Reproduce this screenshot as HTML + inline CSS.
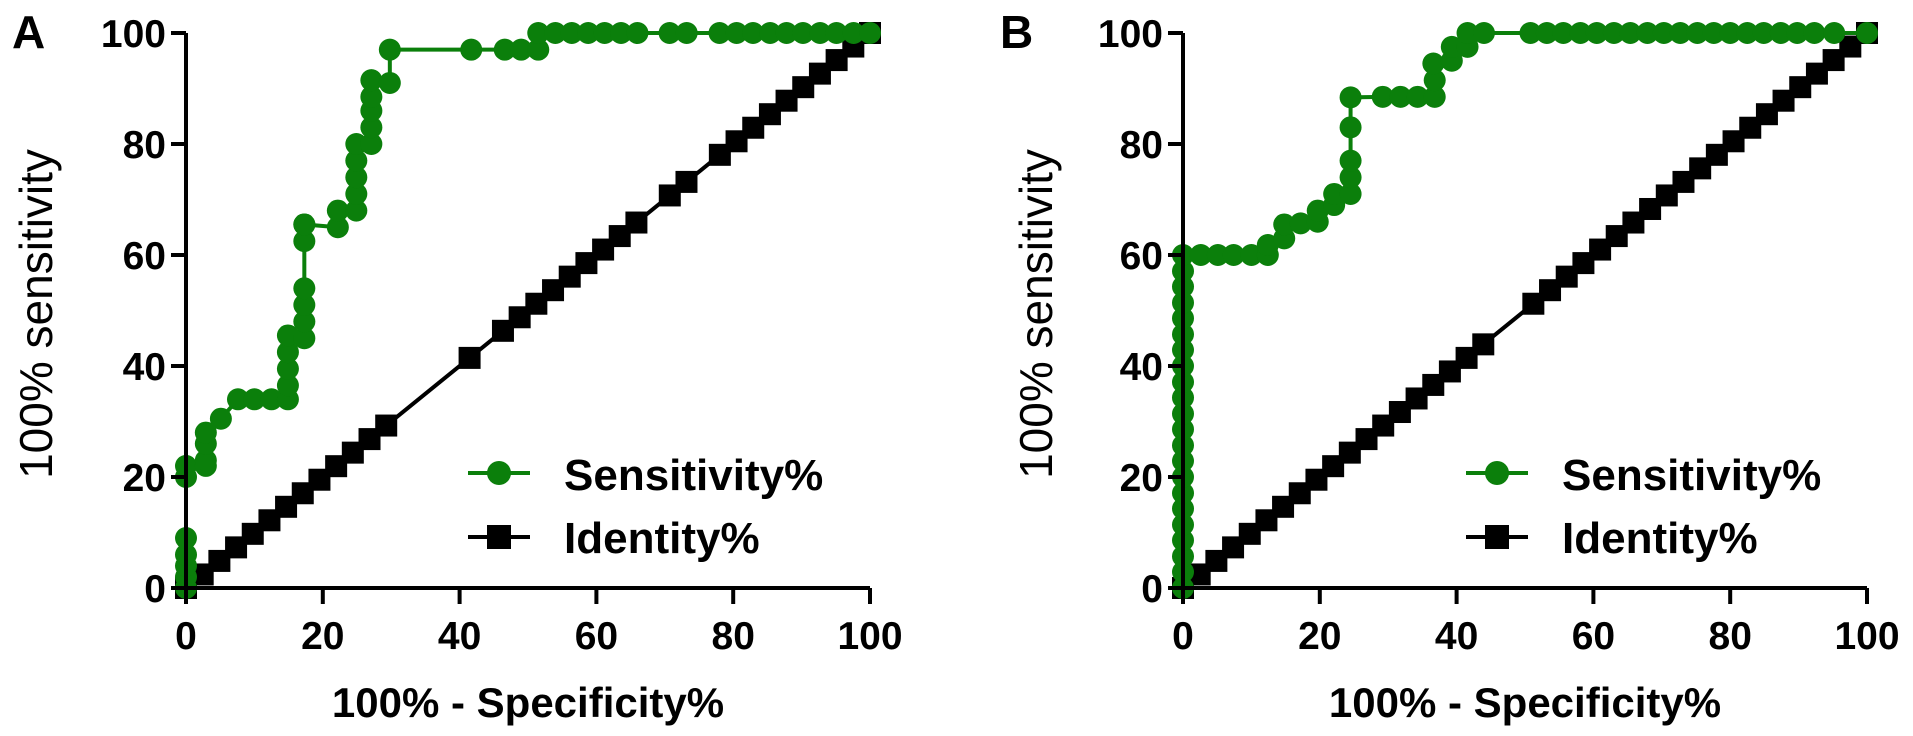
<!DOCTYPE html>
<html><head><meta charset="utf-8"><style>
html,body{margin:0;padding:0;background:#fff;}
svg{display:block;font-family:"Liberation Sans",Arial,sans-serif;}
</style></head><body>
<svg id="fig" width="1913" height="736" viewBox="0 0 1913 736" xmlns="http://www.w3.org/2000/svg"></svg>
<script>
const ticks = [0, 20, 40, 60, 80, 100];
const tickLabels = ["0", "20", "40", "60", "80", "100"];
const sensAx = [0,0,0,0,0,0,0,2.9,2.9,2.9,2.9,5.1,7.6,10,12.5,14.9,14.9,14.9,14.9,14.9,17.3,17.3,17.3,17.3,17.3,17.3,17.3,22.2,22.2,24.9,24.9,24.9,24.9,24.9,27.1,27.1,27.1,27.1,27.1,29.8,29.8,41.7,46.6,49,51.5,51.5,54,56.4,58.8,61.2,63.6,66,70.7,73.2,78,80.5,82.9,85.4,87.8,90.2,92.7,95.1,97.6,100];
const sensAy = [0,2,4,6,9,20,22,22,23,26,28,30.5,34,34,34,34,36.5,39.5,42.5,45.5,45,48,51,54,62.5,65.5,65.5,65,68,68,71,74,77,80,80,83,86,88.5,91.5,91,97,97,97,97,97,100,100,100,100,100,100,100,100,100,100,100,100,100,100,100,100,100,100,100];
const identAx = [0,2.44,4.88,7.32,9.76,12.2,14.63,17.07,19.51,21.95,24.39,26.83,29.27,41.46,46.34,48.78,51.22,53.66,56.1,58.54,60.98,63.41,65.85,70.73,73.17,78.05,80.49,82.93,85.37,87.8,90.24,92.68,95.12,97.56,100];
const identAy = identAx.slice();
const sensBx = [0,0,0,0,0,0,0,0,0,0,0,0,0,0,0,0,0,0,0,0,0,0,2.6,5.1,7.4,10,12.4,12.4,14.8,14.8,17.2,19.7,19.7,22.1,22.1,24.5,24.5,24.5,24.5,24.5,29.2,31.8,34.3,36.8,36.8,36.6,39.3,39.3,41.6,41.6,44,50.8,53.2,55.6,58.1,60.5,63,65.4,67.9,70.3,72.7,75.2,77.6,80,82.5,84.9,87.4,89.8,92.3,95.2,100];
const sensBy = [0,2.9,5.7,8.6,11.4,14.3,17.1,20,22.9,25.7,28.6,31.4,34.3,37.1,40,42.9,45.7,48.6,51.4,54.3,57.1,60,60,60,60,60,60,61.8,63,65.5,65.7,66,68,69,71,71,74,77,83,88.4,88.5,88.5,88.5,88.5,91.5,94.5,95,97.5,97.5,100,100,100,100,100,100,100,100,100,100,100,100,100,100,100,100,100,100,100,100,100,100];
const identBx = [0,2.44,4.88,7.32,9.76,12.2,14.63,17.07,19.51,21.95,24.39,26.83,29.27,31.71,34.15,36.59,39.02,41.46,43.9,51.22,53.66,56.1,58.54,60.98,63.41,65.85,68.29,70.73,73.17,75.61,78.05,80.49,82.93,85.37,87.8,90.24,92.68,95.12,97.56,100];
const identBy = identBx.slice();

const NS = "http://www.w3.org/2000/svg";
const svg = document.getElementById('fig');
const GREEN = "#0b7f0b";
function mk(tag, attrs, parent){const e=document.createElementNS(NS,tag);for(const k in attrs)e.setAttribute(k,attrs[k]);(parent||svg).appendChild(e);return e;}

function panel(cfg){
  const g = mk('g',{});
  
  
  const X0=cfg.x0, X1=cfg.x1, Y0=588, Y1=33;
  const sx=v=>X0+(X1-X0)*v/100, sy=v=>Y0-(Y0-Y1)*v/100;
  const il = mk('polyline',{points:cfg.ix.map((v,i)=>sx(v)+','+sy(cfg.iy[i])).join(' '),fill:'none',stroke:'#000','stroke-width':4},g);
  
  
  cfg.ix.forEach((v,i)=>{const r=mk('rect',{x:sx(v)-11,y:sy(cfg.iy[i])-11,width:22,height:22,fill:'#000'},g);
    
    });
  const sl = mk('polyline',{points:cfg.sx.map((v,i)=>sx(v)+','+sy(cfg.sy[i])).join(' '),fill:'none',stroke:GREEN,'stroke-width':4},g);
  
  
  cfg.sx.forEach((v,i)=>{const c=mk('circle',{cx:sx(v),cy:sy(cfg.sy[i]),r:11,fill:GREEN},g);
    
    });
  const ax = mk('path',{d:`M${X0},${Y1} V${Y0} H${X1}`,fill:'none',stroke:'#000','stroke-width':4},g);
  
  
  ticks.forEach((t,i)=>{
    mk('line',{x1:X0-15,x2:X0,y1:sy(t),y2:sy(t),stroke:'#000','stroke-width':4},g);
    mk('line',{x1:sx(t),x2:sx(t),y1:Y0,y2:Y0+16,stroke:'#000','stroke-width':4},g);
    const yt=mk('text',{x:X0-20,y:sy(t)+14,'text-anchor':'end','font-size':39,'font-weight':'bold'},g);
    yt.textContent=tickLabels[i];
    
    
    const xt=mk('text',{x:sx(t),y:649,'text-anchor':'middle','font-size':39,'font-weight':'bold'},g);
    xt.textContent=tickLabels[i];
    
    
  });
  const xtl=mk('text',{x:(X0+X1)/2,y:717,'text-anchor':'middle','font-size':42,'font-weight':'bold'},g);
  xtl.textContent='100% - Specificity%';
  
  
  const ytl=mk('text',{x:0,y:0,'text-anchor':'middle','font-size':46,transform:`translate(${cfg.ytx},314) rotate(-90)`},g);
  ytl.textContent='100% sensitivity';
  
  
  const lt=mk('text',{x:cfg.lx,y:48,'font-size':46,'font-weight':'bold'},g);
  lt.textContent=cfg.id;
  
  
  const L=cfg.leg;
  const l1=mk('g',{},g);
  
  
  mk('line',{x1:L,x2:L+62,y1:473,y2:473,stroke:GREEN,'stroke-width':4},l1);
  mk('circle',{cx:L+31,cy:473,r:12,fill:GREEN},l1);
  const t1=mk('text',{x:L+96,y:490,'font-size':44,'font-weight':'bold'},l1); t1.textContent='Sensitivity%';
  const l2=mk('g',{},g);
  
  
  mk('line',{x1:L,x2:L+62,y1:537,y2:537,stroke:'#000','stroke-width':4},l2);
  mk('rect',{x:L+19,y:525,width:24,height:24,fill:'#000'},l2);
  const t2=mk('text',{x:L+96,y:553,'font-size':44,'font-weight':'bold'},l2); t2.textContent='Identity%';
}
panel({id:'A',x0:186,x1:870,sx:sensAx,sy:sensAy,ix:identAx,iy:identAy,ytx:52,lx:12,leg:468});
panel({id:'B',x0:1183,x1:1867,sx:sensBx,sy:sensBy,ix:identBx,iy:identBy,ytx:1052,lx:1000,leg:1466});
</script>
</body></html>
